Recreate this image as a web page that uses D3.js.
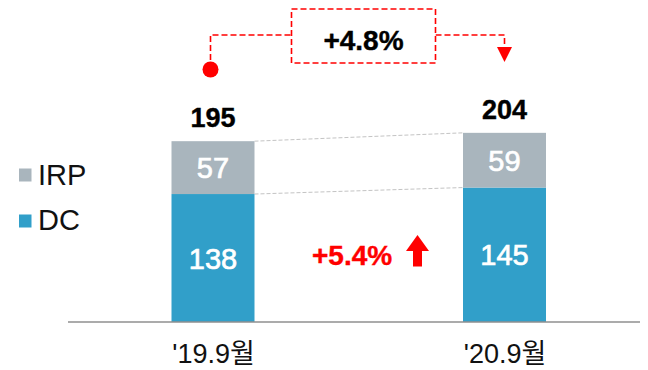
<!DOCTYPE html>
<html>
<head>
<meta charset="utf-8">
<script src="https://cdn.jsdelivr.net/npm/d3@7"></script>
<style>
  html, body { margin: 0; padding: 0; background: #fff; }
  svg { display: block; }
  text { font-family: "Liberation Sans", Arial, "Noto Sans CJK KR", sans-serif; }
</style>
</head>
<body>
<svg id="chart" width="648" height="370"></svg>
<script>
// Reporting periods
const categories = ["'19.9월", "'20.9월"];
// Series values (stacked: DC at the bottom, IRP on top)
const dcValues = [138, 145];
const irpValues = [57, 59];
const seriesNames = ["IRP", "DC"];
// Growth call-outs
const totalGrowthLabel = "+4.8%";
const dcGrowthLabel = "+5.4%";

const colors = { DC: "#319fc9", IRP: "#a9b5bd" };
const red = "#ff0000";

const svg = d3.select("#chart");

const x = d3.scalePoint().domain(categories).range([213, 504.5]);
const y = d3.scaleLinear().domain([0, 220]).range([322, 118]);
const barW = 83;

const rows = categories.map((c, i) => ({
  cat: c, DC: dcValues[i], IRP: irpValues[i], total: dcValues[i] + irpValues[i]
}));
const stack = d3.stack().keys(["DC", "IRP"])(rows);

// Dashed guides joining the segment tops of the two bars
["IRP", "DC"].forEach(key => {
  const layer = stack.find(s => s.key === key);
  svg.append("line")
    .attr("x1", x(categories[0]) + barW / 2)
    .attr("y1", y(layer[0][1]))
    .attr("x2", x(categories[1]) - barW / 2)
    .attr("y2", y(layer[1][1]))
    .attr("stroke", "#c4c4c4")
    .attr("stroke-width", 1)
    .attr("stroke-dasharray", "4,2");
});

// Stacked bars
const g = svg.append("g");
stack.forEach(layer => {
  g.selectAll(null).data(layer).join("rect")
    .attr("x", d => x(d.data.cat) - barW / 2)
    .attr("y", d => y(d[1]))
    .attr("width", barW)
    .attr("height", d => y(d[0]) - y(d[1]))
    .attr("fill", colors[layer.key]);

  // Segment value labels
  g.selectAll(null).data(layer).join("text")
    .attr("x", d => x(d.data.cat))
    .attr("y", d => (y(d[0]) + y(d[1])) / 2 + 10.5)
    .attr("text-anchor", "middle")
    .attr("fill", "#fff")
    .attr("stroke", "#fff")
    .attr("stroke-width", 0.7)
    .attr("font-size", 29)
    .text(d => d.data[layer.key]);
});

// Totals above bars
svg.selectAll(null).data(rows).join("text")
  .attr("x", d => x(d.cat))
  .attr("y", d => y(d.total) - 14)
  .attr("text-anchor", "middle")
  .attr("font-size", 27)
  .attr("font-weight", "bold")
  .attr("fill", "#000")
  .attr("stroke", "#000")
  .attr("stroke-width", 0.4)
  .text(d => d.total);

// Baseline axis
const axis = svg.append("g").attr("transform", `translate(0,${y(0)})`)
  .call(d3.axisBottom(x).tickSize(0).tickPadding(0));
axis.select(".domain").remove();
axis.append("line")
  .attr("x1", 68).attr("x2", 640)
  .attr("stroke", "#8f8f8f").attr("stroke-width", 1.5);
axis.selectAll(".tick text")
  .attr("dy", null)
  .attr("y", 41)
  .attr("font-size", 27)
  .attr("fill", "#111")
  .attr("font-family", "'Liberation Sans', Arial, 'Noto Sans CJK KR', sans-serif");

// Legend
const legend = svg.append("g");
const legendRows = [{ name: "IRP", y: 168.5, base: 184.5 }, { name: "DC", y: 214.5, base: 230 }];
legendRows.forEach(r => {
  legend.append("rect")
    .attr("x", 19).attr("y", r.y).attr("width", 12.5).attr("height", 13)
    .attr("fill", colors[r.name]);
  legend.append("text")
    .attr("x", 38).attr("y", r.base)
    .attr("font-size", 29)
    .attr("font-family", "'Liberation Sans Narrow', 'Liberation Sans', Arial, sans-serif")
    .attr("fill", "#111")
    .text(r.name);
});

// Total growth call-out: dot, dashed bracket, box and arrowhead
const x0 = x(categories[0]) - 2.5, x1 = x(categories[1]);
const boxL = 291.5, boxR = 435.5, boxT = 9, boxB = 63, railY = 35;
const dash = "6,3";
svg.append("path")
  .attr("d", `M${x0},69 V${railY} H${boxL}`)
  .attr("fill", "none").attr("stroke", red).attr("stroke-width", 1.6)
  .attr("stroke-dasharray", dash);
svg.append("path")
  .attr("d", `M${boxR},${railY} H${x1} V47`)
  .attr("fill", "none").attr("stroke", red).attr("stroke-width", 1.6)
  .attr("stroke-dasharray", dash);
svg.append("rect")
  .attr("x", boxL).attr("y", boxT).attr("width", boxR - boxL).attr("height", boxB - boxT)
  .attr("fill", "#fff").attr("stroke", red).attr("stroke-width", 1.6)
  .attr("stroke-dasharray", dash);
svg.append("circle").attr("cx", x0).attr("cy", 69.5).attr("r", 8).attr("fill", red);
svg.append("path")
  .attr("d", `M${x1 - 7.5},47 L${x1 + 7.5},47 L${x1},62 Z`)
  .attr("fill", red);
svg.append("text")
  .attr("x", (boxL + boxR) / 2).attr("y", 50)
  .attr("text-anchor", "middle")
  .attr("font-size", 28).attr("font-weight", "bold").attr("fill", "#000")
  .attr("stroke", "#000").attr("stroke-width", 0.4)
  .text(totalGrowthLabel);

// DC growth label with up arrow
svg.append("text")
  .attr("x", 312).attr("y", 264.5)
  .attr("font-size", 28).attr("font-weight", "bold").attr("fill", red)
  .attr("stroke", red).attr("stroke-width", 0.4)
  .text(dcGrowthLabel);
svg.append("path")
  .attr("d", "M417.5,235 L429,251 L422,251 L422,266.5 L413,266.5 L413,251 L406,251 Z")
  .attr("fill", red);
</script>
</body>
</html>
